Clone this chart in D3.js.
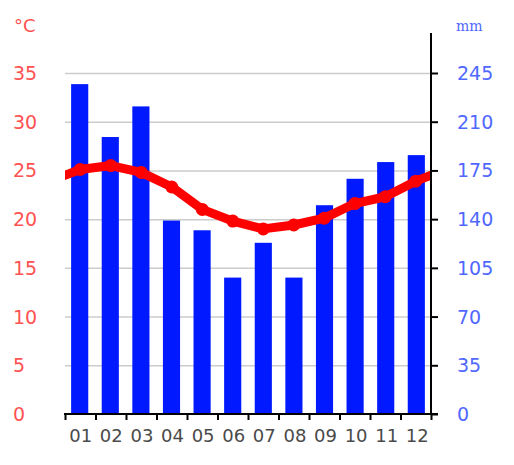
<!DOCTYPE html>
<html>
<head>
<meta charset="utf-8">
<script src="https://cdn.jsdelivr.net/npm/d3@7"></script>
<style>
  body { margin: 0; background: #fff; }
  svg { display: block; }
  .grid line { stroke: #cccccc; stroke-width: 1.5; }
  .grid .domain { display: none; }
  .tempLbl { fill: #ff5252; font-family: "DejaVu Sans", sans-serif; font-size: 19px; }
  .rainLbl { fill: #5068ff; font-family: "DejaVu Sans", sans-serif; font-size: 19px; }
  .monthLbl { fill: #4a4a4a; font-family: "DejaVu Sans", sans-serif; font-size: 18px; }
</style>
</head>
<body>
<script>
/* chart data */
var months = ["01", "02", "03", "04", "05", "06", "07", "08", "09", "10", "11", "12"]
var tempC = [25.1, 25.5, 24.8, 23.3, 21.0, 19.8, 19.0, 19.4, 20.1, 21.6, 22.3, 23.9]
var rainMm = [237, 199, 221, 139, 132, 98, 123, 98, 150, 169, 181, 186]
var tempTicks = [0, 5, 10, 15, 20, 25, 30, 35]
var rainTicks = [0, 35, 70, 105, 140, 175, 210, 245]

var W = 514, H = 465
var plot = {left: 65, right: 431, top: 73, bottom: 414}

function main()
{
  var svg = d3.select("body")
    .append("svg")
    .attr("width", W)
    .attr("height", H)

  /* scales */
  var x = d3.scaleBand()
    .domain(months)
    .range([plot.left, plot.right])
    .paddingInner(0.44)
    .paddingOuter(0.2)

  // continuous version of the month axis, used for the boundary ticks and the line
  var xi = d3.scaleLinear()
    .domain([0, 12])
    .range([plot.left, plot.right])

  var yT = d3.scaleLinear()
    .domain([0, 35])
    .range([plot.bottom, plot.top])

  var yR = d3.scaleLinear()
    .domain([0, 245])
    .range([plot.bottom, plot.top])

  /* gridlines */
  svg.append("g")
    .attr("class", "grid")
    .attr("transform", "translate(" + plot.left + ",0)")
    .call(d3.axisLeft(yT)
      .tickValues(tempTicks.slice(1))
      .tickSize(-(plot.right - plot.left))
      .tickFormat(""))

  /* precipitation bars */
  svg.append("g")
    .selectAll("rect")
    .data(rainMm)
    .enter()
    .append("rect")
    .attr("x", function(d, i) { return x(months[i]) })
    .attr("width", x.bandwidth())
    .attr("y", function(d) { return yR(d) })
    .attr("height", function(d) { return yR(0) - yR(d) })
    .attr("fill", "#0019ff")

  /* temperature line, wrapped round the year and clipped to the plot */
  svg.append("clipPath")
    .attr("id", "plotClip")
    .append("rect")
    .attr("x", plot.left)
    .attr("y", 0)
    .attr("width", plot.right - plot.left)
    .attr("height", H)

  var pts = tempC.map(function(t, i) { return [i + 0.5, t] })
  pts.unshift([-0.5, tempC[11]])
  pts.push([12.5, tempC[0]])

  var line = d3.line()
    .x(function(d) { return xi(d[0]) })
    .y(function(d) { return yT(d[1]) })

  svg.append("path")
    .datum(pts)
    .attr("clip-path", "url(#plotClip)")
    .attr("d", line)
    .attr("fill", "none")
    .attr("stroke", "#ff0000")
    .attr("stroke-width", 9)
    .attr("stroke-linejoin", "round")

  svg.append("g")
    .selectAll("circle")
    .data(tempC)
    .enter()
    .append("circle")
    .attr("cx", function(d, i) { return xi(i + 0.5) })
    .attr("cy", function(d) { return yT(d) })
    .attr("r", 6.5)
    .attr("fill", "#ff0000")

  /* bottom axis: ticks at month boundaries */
  var bottom = svg.append("g")
    .attr("transform", "translate(0," + plot.bottom + ")")
    .call(d3.axisBottom(xi)
      .tickValues(d3.range(13))
      .tickSize(6)
      .tickSizeOuter(0)
      .tickFormat(""))
  bottom.selectAll("line").attr("stroke", "#000").attr("stroke-width", 2)
  bottom.select(".domain").remove()
  bottom.append("line")
    .attr("x1", plot.left - 1)
    .attr("x2", plot.right + 7)
    .attr("stroke", "#000")
    .attr("stroke-width", 2)

  svg.append("g")
    .selectAll("text")
    .data(months)
    .enter()
    .append("text")
    .attr("class", "monthLbl")
    .attr("x", function(d) { return x(d) + x.bandwidth() / 2 + 1 })
    .attr("y", 442)
    .attr("text-anchor", "middle")
    .text(function(d) { return d })

  /* right axis (precipitation) */
  var right = svg.append("g")
    .attr("transform", "translate(" + plot.right + ",0)")
    .call(d3.axisRight(yR)
      .tickValues(rainTicks)
      .tickSize(7)
      .tickSizeOuter(0)
      .tickFormat(""))
  right.selectAll("line").attr("stroke", "#000").attr("stroke-width", 2)
  right.select(".domain").remove()
  right.append("line")
    .attr("y1", 33)
    .attr("y2", plot.bottom + 1)
    .attr("stroke", "#000")
    .attr("stroke-width", 2)

  svg.append("g")
    .selectAll("text")
    .data(rainTicks)
    .enter()
    .append("text")
    .attr("class", "rainLbl")
    .attr("x", 457)
    .attr("y", function(d) { return yR(d) + 7 })
    .text(function(d) { return d })

  /* left labels (temperature) */
  svg.append("g")
    .selectAll("text")
    .data(tempTicks)
    .enter()
    .append("text")
    .attr("class", "tempLbl")
    .attr("x", 13)
    .attr("y", function(d) { return yT(d) + 7 })
    .text(function(d) { return d })

  /* units */
  svg.append("text")
    .attr("x", 14)
    .attr("y", 32)
    .attr("fill", "#ff5252")
    .style("font-family", "DejaVu Sans, sans-serif")
    .style("font-size", "18px")
    .text("°C")

  svg.append("text")
    .attr("x", 456)
    .attr("y", 31)
    .attr("fill", "#5068ff")
    .style("font-family", "DejaVu Serif, serif")
    .style("font-size", "14px")
    .text("mm")
}

main()
</script>
</body>
</html>
